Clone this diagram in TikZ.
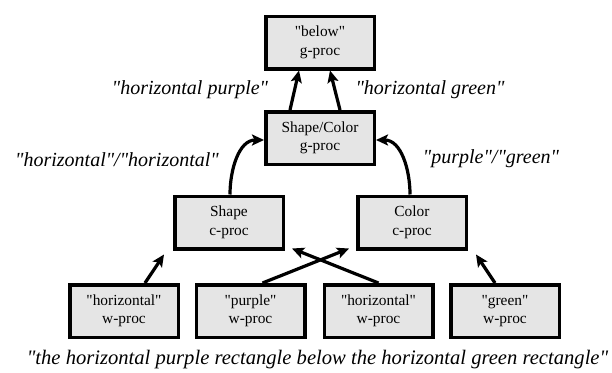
\documentclass[tikz,border=0pt]{standalone}
\usepackage{fontspec}
\setmainfont{Liberation Serif}[Ligatures=TeXOff]
\usetikzlibrary{arrows.meta,calc}
\begin{document}
\begin{tikzpicture}[x=1pt,y=-1pt,
  procbox/.style={draw=black,line width=3.5pt,fill=black!10,minimum width=108.5pt,minimum height=52.5pt,
    align=center,inner sep=0pt,font=\fontsize{15.4}{18.5}\selectfont},
  lab/.style={font=\fontsize{20}{24}\selectfont\itshape,inner sep=0pt},
  arr/.style={line width=3.2pt,-{Stealth[length=12pt,width=11pt,inset=2.5pt]}}]
\useasboundingbox (0,0) rectangle (612,372);
\node[procbox] (below) at (320,42.5) {"below"\\g-proc};
\node[procbox] (sc) at (320,138) {Shape/Color\\g-proc};
\node[procbox] (shape) at (229,222.5) {Shape\\c-proc};
\node[procbox] (color) at (412,222.5) {Color\\c-proc};
\node[procbox] (w1) at (124,311) {"horizontal"\\w-proc};
\node[procbox] (w2) at (250.5,311) {"purple"\\w-proc};
\node[procbox] (w3) at (378.5,311) {"horizontal"\\w-proc};
\node[procbox] (w4) at (505,311) {"green"\\w-proc};
\node[lab] (lhp) at (190,90) {"horizontal purple"};
\node[lab] (lhg) at (430,90) {"horizontal green"};
\node[lab] (lhh) at (117,160) {"horizontal"/"horizontal"};
\node[lab] (lpg) at (491,159) {"purple"/"green"};
\node[lab,font=\fontsize{20.6}{24}\selectfont\itshape] (sent) at (317.5,360) {"the horizontal purple rectangle below the horizontal green rectangle"};
\draw[arr] ([xshift=-30pt]sc.north) -- ([xshift=-21pt]below.south);
\draw[arr] ([xshift=20pt]sc.north) -- ([xshift=10pt]below.south);
\draw[arr] ([xshift=1pt]shape.north) to[out=90,in=180] ([yshift=-2pt]sc.west);
\draw[arr] ([xshift=-2pt]color.north) to[out=90,in=0] ([yshift=-2pt]sc.east);
\draw[arr] ([xshift=21pt]w1.north) -- ($(shape.south west)+(-9,4)$);
\draw[arr] ([xshift=12pt]w2.north) -- ($(color.south west)+(-7,-2)$);
\draw[arr] ([xshift=0pt]w3.north) -- ($(shape.south east)+(7,-2)$);
\draw[arr] ([xshift=-10pt]w4.north) -- ($(color.south east)+(8,4)$);
\end{tikzpicture}
\end{document}
